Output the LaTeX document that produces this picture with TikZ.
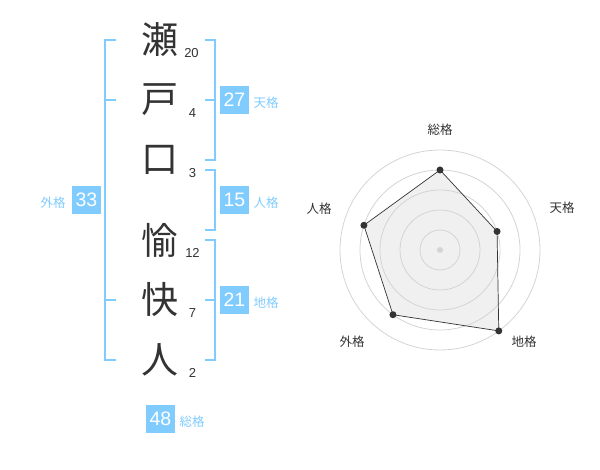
\documentclass[tikz,border=0pt]{standalone}
\usepackage{fontspec}
\setmainfont{Liberation Sans}
\newfontfamily\jp{Noto Sans CJK JP}
\definecolor{kblue}{RGB}{128,204,255}
\definecolor{kdark}{RGB}{51,51,51}
\definecolor{kring}{RGB}{212,212,212}
\definecolor{kfill}{RGB}{240,240,240}
\begin{document}
\begin{tikzpicture}[x=1pt,y=-1pt,
  namechar/.style={inner sep=0pt,text=kdark,font=\jp\fontsize{37}{37}\selectfont},
  strokenum/.style={inner sep=0pt,text=kdark,font=\fontsize{13}{13}\selectfont},
  bracket/.style={draw=kblue,line width=2pt},
  kakubox/.style={fill=kblue,text=white,minimum width=29pt,minimum height=28pt,inner sep=0pt,font=\fontsize{19.5}{19.5}\selectfont},
  kakulabel/.style={inner sep=0pt,text=kblue,font=\jp\fontsize{12.5}{12.5}\selectfont},
  ring/.style={draw=kring,line width=0.8pt},
  radarlabel/.style={inner sep=0pt,text=kdark,font=\jp\fontsize{12.5}{12.5}\selectfont},
  dot/.style={circle,fill=kdark,inner sep=0pt,minimum size=7pt}]
\useasboundingbox (0,0) rectangle (600,470);
% name characters
\node[namechar] (c1) at (160,40) {瀬};
\node[namechar] (c2) at (160,100) {戸};
\node[namechar] (c3) at (160,160) {口};
\node[namechar] (c4) at (160,240) {愉};
\node[namechar] (c5) at (160,300) {快};
\node[namechar] (c6) at (160,360) {人};
% stroke counts
\node[strokenum] (s1) at (191.5,53) {20};
\node[strokenum] (s2) at (192.5,113) {4};
\node[strokenum] (s3) at (192.5,173) {3};
\node[strokenum] (s4) at (192.5,253) {12};
\node[strokenum] (s5) at (192.5,313) {7};
\node[strokenum] (s6) at (192.5,373) {2};
% brackets
\draw[bracket] (116,40) -- (105,40) -- (105,360) -- (116,360);
\draw[bracket] (105,100) -- (116,100);
\draw[bracket] (105,300) -- (116,300);
\draw[bracket] (205,40) -- (215,40) -- (215,160) -- (205,160);
\draw[bracket] (205,100) -- (215,100);
\draw[bracket] (205,170) -- (215,170) -- (215,230) -- (205,230);
\draw[bracket] (205,240) -- (215,240) -- (215,360) -- (205,360);
\draw[bracket] (205,300) -- (215,300);
% boxes
\node[kakubox] (gai) at (86.5,200) {33};
\node[kakulabel] (gail) at (53,203) {外格};
\node[kakubox] (ten) at (234.5,100) {27};
\node[kakulabel] (tenl) at (266,103) {天格};
\node[kakubox] (jin) at (234.5,200) {15};
\node[kakulabel] (jinl) at (266,203) {人格};
\node[kakubox] (chi) at (234.5,300) {21};
\node[kakulabel] (chil) at (266,303) {地格};
\node[kakubox] (sou) at (160.5,419) {48};
\node[kakulabel] (soul) at (192,422) {総格};
% radar
\begin{scope}[shift={(440,250)}]
\coordinate (p1) at (-90:80);
\coordinate (p2) at (-18:60);
\coordinate (p3) at (54:100);
\coordinate (p4) at (126:80);
\coordinate (p5) at (198:80);
\fill[kfill] (p1) -- (p2) -- (p3) -- (p4) -- (p5) -- cycle;
\foreach \r in {20,40,60,80,100} \draw[ring] (0,0) circle (\r);
\fill[kring] (0,0) circle (3);
\draw[kdark,line width=0.7pt] (p1) -- (p2) -- (p3) -- (p4) -- (p5) -- cycle;
\foreach \p in {p1,p2,p3,p4,p5} \node[dot] at (\p) {};
\end{scope}
\node[radarlabel] (r1) at (440,130) {総格};
\node[radarlabel] (r2) at (562,208) {天格};
\node[radarlabel] (r3) at (524,342) {地格};
\node[radarlabel] (r4) at (352,342) {外格};
\node[radarlabel] (r5) at (319,209) {人格};
\end{tikzpicture}
\end{document}
